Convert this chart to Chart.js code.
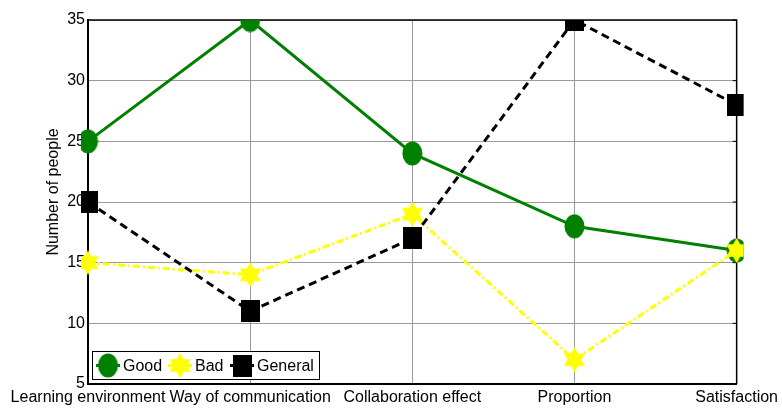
<!DOCTYPE html>
<html>
<head>
<meta charset="utf-8">
<script src="https://cdn.jsdelivr.net/npm/chart.js@4.4.1/dist/chart.umd.min.js"></script>
<style>
  html, body { margin: 0; padding: 0; background: #fff; }
  #wrap { width: 782px; height: 409px; }
</style>
</head>
<body>
<div id="wrap"><canvas id="grafico" width="782" height="409"></canvas></div>
<script>
const categorias = ['Learning environment', 'Way of communication', 'Collaboration effect', 'Proportion', 'Satisfaction'];
const valoresGood = [25, 35, 24, 18, 16];
const valoresBad = [15, 14, 19, 7, 16];
const valoresGeneral = [20, 11, 17, 35, 28];
const ticksY = [5, 10, 15, 20, 25, 30, 35];
const tituloY = 'Number of people';

const FONTE = '"Liberation Sans", Arial, sans-serif';

// marcadores desenhados num canvas pequeno
function marcadorCirculo(cor, w, h) {
    const c = document.createElement('canvas');
    c.width = w; c.height = h;
    const ctx = c.getContext('2d');
    ctx.fillStyle = cor;
    ctx.beginPath();
    ctx.ellipse(w / 2, h / 2, w / 2 - 0.5, h / 2 - 0.5, 0, 0, Math.PI * 2);
    ctx.fill();
    return c;
}

function marcadorQuadrado(cor, w, h) {
    const c = document.createElement('canvas');
    c.width = w; c.height = h;
    const ctx = c.getContext('2d');
    ctx.fillStyle = cor;
    ctx.fillRect(0, 0, w, h);
    return c;
}

function marcadorEstrela(cor, w, h) {
    const c = document.createElement('canvas');
    c.width = w; c.height = h;
    const ctx = c.getContext('2d');
    const cx = w / 2, cy = h / 2;
    const rx = w / 2 / Math.cos(Math.PI / 6), ry = h / 2;
    ctx.fillStyle = cor;
    [[-90, 30, 150], [90, -30, 210]].forEach(tri => {
        ctx.beginPath();
        tri.forEach((a, i) => {
            const r = a * Math.PI / 180;
            const x = cx + Math.cos(r) * rx;
            const y = cy + Math.sin(r) * ry;
            if (i === 0) ctx.moveTo(x, y); else ctx.lineTo(x, y);
        });
        ctx.closePath();
        ctx.fill();
    });
    return c;
}

const ptGood = marcadorCirculo('#008000', 21, 25);
const ptBad = marcadorEstrela('#ffff00', 21, 25);
const ptGeneral = marcadorQuadrado('#000000', 19, 22);

// borda superior/direita, marquinhas do eixo da direita e título do eixo y
const moldura = {
    id: 'moldura',
    beforeDatasetsDraw(chart) {
        const { ctx, chartArea: a, scales } = chart;
        ctx.save();
        ctx.strokeStyle = '#000';
        ctx.lineWidth = 1.5;
        ctx.beginPath();
        ctx.moveTo(a.left, a.top);
        ctx.lineTo(a.right, a.top);
        ctx.lineTo(a.right, a.bottom);
        ctx.stroke();
        ctx.lineWidth = 1;
        ticksY.forEach(v => {
            const y = scales.y.getPixelForValue(v);
            ctx.beginPath();
            ctx.moveTo(a.right - 4, y);
            ctx.lineTo(a.right, y);
            ctx.stroke();
        });

        // título do eixo y, um pouco acima do meio como no original
        ctx.translate(54, 192);
        ctx.rotate(-Math.PI / 2);
        ctx.font = '16px ' + FONTE;
        ctx.fillStyle = '#000';
        ctx.textAlign = 'center';
        ctx.textBaseline = 'middle';
        ctx.fillText(tituloY, 0, 0);
        ctx.restore();
    }
};

// legenda dentro da área do gráfico, canto inferior esquerdo
const legendaInterna = {
    id: 'legendaInterna',
    afterDraw(chart) {
        const { ctx } = chart;
        const caixa = { x: 92.5, y: 351.5, w: 227, h: 28 };
        ctx.save();
        ctx.fillStyle = '#fff';
        ctx.fillRect(caixa.x, caixa.y, caixa.w, caixa.h);
        ctx.strokeStyle = '#000';
        ctx.lineWidth = 1;
        ctx.strokeRect(caixa.x, caixa.y, caixa.w, caixa.h);
        const cy = caixa.y + caixa.h / 2;
        const posicoes = [108, 180, 242];
        ctx.font = '16px ' + FONTE;
        ctx.textBaseline = 'middle';
        chart.data.datasets.forEach((ds, i) => {
            const mx = posicoes[i];
            ctx.strokeStyle = ds.borderColor;
            ctx.lineWidth = ds.borderWidth;
            ctx.setLineDash([]);
            ctx.beginPath();
            ctx.moveTo(mx - 12, cy);
            ctx.lineTo(mx + 12, cy);
            ctx.stroke();
            const img = ds.pointStyle;
            ctx.drawImage(img, mx - img.width / 2, cy - img.height / 2);
            ctx.fillStyle = '#000';
            ctx.fillText(ds.label, mx + 15, cy + 1);
        });
        ctx.restore();
    }
};

const ctxGrafico = document.getElementById('grafico').getContext('2d');

new Chart(ctxGrafico, {
    type: 'line',
    data: {
        labels: categorias,
        datasets: [
            {
                label: 'Good',
                data: valoresGood,
                borderColor: '#008000',
                borderWidth: 3,
                pointStyle: ptGood,
                order: 3,
            },
            {
                label: 'Bad',
                data: valoresBad,
                borderColor: '#ffff00',
                borderWidth: 3,
                borderDash: [7, 3, 2, 3],
                pointStyle: ptBad,
                order: 2,
            },
            {
                label: 'General',
                data: valoresGeneral,
                borderColor: '#000000',
                borderWidth: 3,
                borderDash: [8, 5],
                pointStyle: ptGeneral,
                order: 1,
            },
        ],
    },
    options: {
        responsive: false,
        animation: false,
        events: [],
        tension: 0,
        layout: { padding: { top: 20, right: 43, left: 0, bottom: 0 } },
        plugins: {
            legend: { display: false },
            tooltip: { enabled: false },
        },
        scales: {
            x: {
                offset: false,
                grid: { color: '#9a9a9a', lineWidth: 1, drawTicks: false },
                border: { color: '#000', width: 2 },
                ticks: {
                    color: '#000',
                    font: { family: FONTE, size: 16 },
                    padding: 4,
                    autoSkip: false,
                    maxRotation: 0,
                },
                afterFit(scale) { scale.height = 25; },
            },
            y: {
                min: 5,
                max: 35,
                afterBuildTicks(scale) { scale.ticks = ticksY.map(v => ({ value: v })); },
                grid: { color: '#9a9a9a', lineWidth: 1, drawTicks: false },
                border: { color: '#000', width: 2 },
                ticks: {
                    color: '#000',
                    font: { family: FONTE, size: 16 },
                    padding: 3,
                },
                afterFit(scale) { scale.width = 88; },
            },
        },
    },
    plugins: [moldura, legendaInterna],
});
</script>
</body>
</html>
